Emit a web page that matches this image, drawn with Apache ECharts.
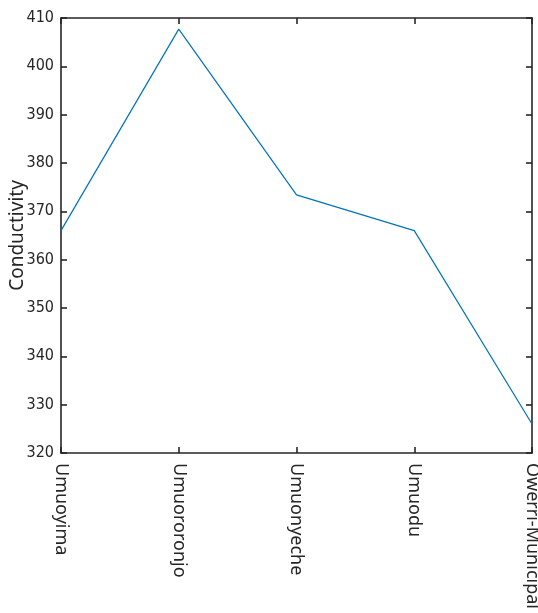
<!DOCTYPE html>
<html>
<head>
<meta charset="utf-8">
<script src="https://cdn.jsdelivr.net/npm/echarts@6/dist/echarts.min.js"></script>
<style>
  html, body { margin: 0; padding: 0; background: #fff; }
  #chart { width: 538px; height: 613px; }
</style>
</head>
<body>
<div id="chart"></div>
<script>
// Conductivity measured at each sampling site
const sites = ['Umuoyima', 'Umuororonjo', 'Umuonyeche', 'Umuodu', 'Owerri-Municipal'];
const conductivity = [366.0, 407.7, 373.4, 366.0, 326.0];
const yTicks = { min: 320, max: 410, step: 10 };

const axisColor = '#262626';
const chart = echarts.init(document.getElementById('chart'), null, { renderer: 'canvas' });

chart.setOption({
  animation: false,
  backgroundColor: '#ffffff',
  grid: { left: 61, right: 6, top: 18, bottom: 160, containLabel: false, outerBoundsMode: 'none' },
  xAxis: [
    {
      type: 'category',
      data: sites,
      boundaryGap: false,
      position: 'bottom',
      axisLine: { lineStyle: { color: axisColor, width: 1.6 } },
      axisTick: { inside: true, length: 6, alignWithLabel: true, lineStyle: { color: axisColor, width: 1.6 } },
      axisLabel: {
        interval: 0,
        rotate: -90,
        margin: 10,
        hideOverlap: false,
        color: '#262626',
        fontFamily: 'Noto Sans',
        fontSize: 18
      },
      splitLine: { show: false }
    },
    {
      type: 'category',
      data: sites,
      boundaryGap: false,
      position: 'top',
      axisLine: { lineStyle: { color: axisColor, width: 1.6 } },
      axisTick: { inside: true, length: 6, lineStyle: { color: axisColor, width: 1.6 } },
      axisLabel: { show: false },
      splitLine: { show: false }
    }
  ],
  yAxis: [
    {
      type: 'value',
      min: yTicks.min,
      max: yTicks.max,
      interval: yTicks.step,
      position: 'left',
      name: 'Conductivity',
      nameLocation: 'middle',
      nameGap: 34,
      nameMoveOverlap: false,
      nameTextStyle: { color: '#262626', fontFamily: 'Noto Sans', fontSize: 19 },
      axisLine: { show: true, lineStyle: { color: axisColor, width: 1.6 } },
      axisTick: { show: true, inside: true, length: 6, lineStyle: { color: axisColor, width: 1.6 } },
      axisLabel: {
        margin: 7,
        color: '#262626',
        fontFamily: "'Liberation Sans Narrow', 'DejaVu Sans Condensed', 'Liberation Sans', sans-serif",
        fontSize: 16
      },
      splitLine: { show: false }
    },
    {
      type: 'value',
      min: yTicks.min,
      max: yTicks.max,
      interval: yTicks.step,
      position: 'right',
      axisLine: { show: true, lineStyle: { color: axisColor, width: 1.6 } },
      axisTick: { show: true, inside: true, length: 6, lineStyle: { color: axisColor, width: 1.6 } },
      axisLabel: { show: false },
      splitLine: { show: false }
    }
  ],
  series: [
    {
      type: 'line',
      data: conductivity,
      xAxisIndex: 0,
      yAxisIndex: 0,
      showSymbol: false,
      symbol: 'none',
      lineStyle: { color: '#0072BD', width: 1.2 },
      clip: false
    }
  ]
});
</script>
</body>
</html>
